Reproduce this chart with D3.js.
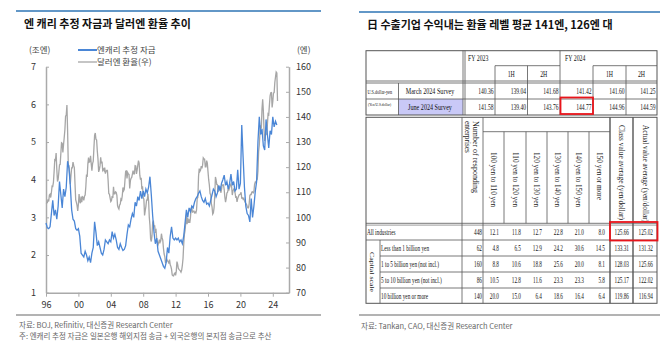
<!DOCTYPE html>
<html><head><meta charset="utf-8">
<script src="https://cdn.jsdelivr.net/npm/d3@7"></script>
<style>body{margin:0;background:#fff}svg{display:block}</style>
</head><body><svg id="c" width="660" height="345"></svg>
<script>
// ---------- DATA (left chart) ----------
// USD/JPY monthly, from Jan 1996
const usdjpyMonthly = [
105.8,105.7,105.9,107.2,106.3,108.9,109.2,107.9,109.9,112.4,112.3,113.9,
118.1,122.9,122.7,125.6,119.2,114.3,115.1,117.9,120.9,121.1,125.4,129.7,
129.5,125.9,129.0,131.8,134.9,140.3,140.7,144.7,134.5,121.0,120.6,117.4,
113.2,116.7,119.7,119.7,122.0,120.7,119.7,113.2,107.0,106.0,104.8,102.6,
105.2,109.3,106.3,105.6,108.3,106.1,108.2,108.0,106.8,108.4,108.9,112.2,
117.1,116.1,121.2,123.8,122.0,122.2,124.5,121.3,118.6,121.4,122.4,127.6,
132.7,133.6,131.1,130.8,126.4,123.3,118.1,119.0,120.5,123.9,121.5,122.2,
118.8,119.3,118.7,119.8,117.4,118.3,118.7,118.7,114.8,109.5,109.2,107.7,
106.3,106.7,108.5,107.7,112.2,109.4,109.4,110.2,110.0,108.8,104.7,103.8,
103.3,104.9,105.3,107.3,106.9,108.6,111.9,110.6,111.2,114.8,118.4,118.5,
115.5,117.9,117.3,117.1,111.5,114.5,115.6,115.9,117.2,118.6,117.3,117.3,
120.6,120.5,117.3,118.8,120.8,122.6,121.6,116.7,115.0,115.8,111.2,112.4,
107.9,107.2,100.8,102.7,104.4,106.9,106.9,109.4,106.6,100.1,96.9,91.3,
90.4,92.6,97.8,98.7,96.5,96.6,94.5,94.9,91.4,90.3,89.1,89.9,
91.1,90.1,90.7,93.5,91.8,90.9,87.7,85.4,84.4,81.8,82.5,83.3,
82.6,82.5,81.6,83.2,81.1,80.5,79.3,77.1,76.8,76.7,77.5,77.8,
76.9,78.5,82.4,81.4,79.7,79.3,79.0,78.7,78.2,79.0,80.9,83.6,
89.2,93.1,94.8,97.8,101.0,97.3,99.7,97.8,99.2,97.8,100.0,103.5,
103.9,102.1,102.3,102.5,101.8,102.1,101.8,102.9,107.4,108.0,116.4,119.4,
118.3,118.8,120.4,119.5,120.8,123.7,123.3,123.2,120.1,120.1,122.6,121.6,
118.2,115.0,112.9,109.6,108.9,105.5,104.1,101.3,101.8,103.9,108.6,116.1,
114.9,113.1,113.0,110.1,112.2,110.9,112.4,109.8,111.0,112.9,112.8,112.9,
111.0,107.9,106.1,107.6,109.7,110.0,111.4,111.0,111.9,112.8,113.3,112.2,
108.9,110.5,111.2,111.6,110.0,108.1,108.2,106.2,107.5,108.2,108.9,109.1,
109.3,110.0,107.7,107.8,107.2,107.6,106.7,106.0,105.6,105.2,104.4,103.8,
103.8,105.4,108.7,109.1,109.1,110.1,110.2,109.8,110.2,113.1,114.0,113.9,
114.8,115.2,118.5,126.3,128.8,133.9,136.7,135.3,143.1,147.0,142.4,134.8,
130.4,132.7,133.0,133.3,137.0,141.2,140.9,144.8,148.4,149.6,149.7,143.8,
146.2,149.5,149.7,153.7,155.9,157.9,157.5,146.3
];
// Yen carry estimate (trillion yen), every 2 months from Jan 1996
const carryBimonthly = [
2.85,2.72,2.70,2.75,3.10,3.45,
3.05,3.20,2.95,3.30,3.95,3.60,
3.25,3.75,3.55,3.80,4.49,4.30,
3.85,3.20,2.95,2.90,2.70,2.66,
2.70,2.50,2.05,2.00,1.95,2.10,
2.00,1.85,1.95,1.80,2.05,2.20,
2.88,2.60,2.25,2.35,2.20,2.05,
2.00,2.15,2.40,2.35,2.30,2.40,
2.35,2.62,2.45,2.55,2.40,2.20,
2.15,2.30,2.20,2.12,2.15,2.25,
2.55,2.80,2.75,2.95,3.10,3.00,
3.40,3.30,3.55,3.45,3.70,3.50,
3.70,3.55,3.75,3.65,3.80,4.08,
3.60,3.05,2.60,2.30,2.45,2.10,
2.00,1.90,1.80,1.70,1.65,1.80,
2.20,2.05,2.50,2.75,2.45,2.40,
2.45,2.40,2.45,2.35,2.40,2.30,
2.50,2.85,3.20,3.00,3.25,3.15,
3.30,3.25,3.40,3.50,3.55,3.64,
3.70,3.55,3.45,3.40,3.50,3.35,
3.38,3.30,3.45,3.60,3.75,3.70,
3.55,3.65,3.85,3.70,3.90,4.00,
4.12,3.85,3.95,3.75,3.90,4.15,
3.85,3.95,3.70,3.75,4.26,3.75,
3.90,5.45,4.60,3.80,3.30,3.10,
3.05,2.88,3.50,3.00,3.30,3.68,
3.95,5.00,5.67,5.20,5.35,4.90,
4.79,5.60,5.20,4.84,5.30,5.20,
5.67,5.40,5.55,5.45
];
const xTickYears = [1996,2000,2004,2008,2012,2016,2020,2024];
const xTickLabels = ["96","00","04","08","12","16","20","24"];
const leftTicks = [1,2,3,4,5,6,7];
const rightTicks = [70,80,90,100,110,120,130,140,150,160];
const seriesNames = ["엔캐리 추정 자금","달러엔 환율(우)"];

// ---------- DATA (right table) ----------
const periodHeaders = ["FY 2023","1H","2H","FY 2024","1H","2H"];
const surveyNames = ["March 2024 Survey","June 2024 Survey"];
const marchSurvey = [140.36,139.04,141.68,141.42,141.60,141.25];
const juneSurvey  = [141.58,139.40,143.76,144.77,144.96,144.59];
const rangeLabels = ["100 yen to 110 yen","110 yen to 120 yen","120 yen to 130 yen","130 yen to 140 yen","140 yen to 150 yen","150 yen or more"];
const rowLabels = ["All industries","Less than 1 billion yen","1 to 5 billion yen (not incl.)","5 to 10 billion yen (not incl.)","10 billion yen or more"];
const respondents = [448,62,160,86,140];
const shares = [
 [12.1,11.8,12.7,22.8,21.0,8.0],
 [4.8,6.5,12.9,24.2,30.6,14.5],
 [8.8,10.6,18.8,25.6,20.0,8.1],
 [10.5,12.8,11.6,23.3,23.3,5.8],
 [20.0,15.0,6.4,18.6,16.4,6.4]
];
const classAvg  = [125.66,133.31,128.03,125.17,119.86];
const actualAvg = [125.02,131.32,125.66,122.02,116.94];

// ---------- DRAW ----------
const svg = d3.select("#c");
const KR = "'Noto Sans CJK KR','Noto Sans',sans-serif";
const SERIF = "'Liberation Serif','DejaVu Serif',serif";

// ===== LEFT PANEL =====
svg.append("line").attr("x1",16).attr("x2",321).attr("y1",11).attr("y2",11).attr("stroke","#2E74B5").attr("stroke-width",1.5);
svg.append("text").attr("x",24).attr("y",28).attr("font-family",KR).attr("font-weight","bold").attr("font-size",11).attr("fill","#111").text("엔 캐리 추정 자금과 달러엔 환율 추이");

const x = d3.scaleLinear().domain([1996,2026]).range([46,289]);
const yL = d3.scaleLinear().domain([1,7]).range([292.7,66.7]);
const yR = d3.scaleLinear().domain([70,160]).range([292.7,66.7]);

const g = svg.append("g");
const axisColor = "#aaaaaa";
const ax = g.append("g").attr("transform","translate(0,292.7)").call(d3.axisBottom(x).tickValues(xTickYears).tickFormat((d,i)=>xTickLabels[i]).tickSize(4).tickSizeOuter(0));
const ayL = g.append("g").attr("transform","translate(46,0)").call(d3.axisRight(yL).tickValues(leftTicks).tickSize(3).tickSizeOuter(0).tickFormat(""));
const ayR = g.append("g").attr("transform","translate(289,0)").call(d3.axisLeft(yR).tickValues(rightTicks).tickSize(3).tickSizeOuter(0).tickFormat(""));
[ax,ayL,ayR].forEach(a=>{a.select(".domain").attr("stroke",axisColor).attr("stroke-width",1.5);a.selectAll(".tick line").attr("stroke",axisColor).attr("stroke-width",1);});
ax.selectAll(".tick text").attr("font-family",KR).attr("font-size",9).attr("fill","#333").attr("dy","0.9em");
g.selectAll(".ll").data(leftTicks).enter().append("text").attr("x",36).attr("y",d=>yL(d)).attr("dy","0.35em").attr("text-anchor","end").attr("font-family",KR).attr("font-size",9).attr("fill","#333").text(d=>d);
g.selectAll(".rl").data(rightTicks).enter().append("text").attr("x",296).attr("y",d=>yR(d)).attr("dy","0.35em").attr("font-family",KR).attr("font-size",9).attr("fill","#333").text(d=>d);
g.append("text").attr("x",29).attr("y",50).attr("dy","0.35em").attr("font-family",KR).attr("font-size",8.5).attr("fill","#444").text("(조엔)");
g.append("text").attr("x",297).attr("y",50).attr("dy","0.35em").attr("font-family",KR).attr("font-size",8.5).attr("fill","#444").text("(엔)");

const grayPts = usdjpyMonthly.map((v,i)=>[1996+i/12,v]);
const bluePts = carryBimonthly.map((v,i)=>[1996+i*2/12,v]);
g.append("path").datum(grayPts).attr("fill","none").attr("stroke","#a6a6a6").attr("stroke-width",1.3)
 .attr("d",d3.line().x(d=>x(d[0])).y(d=>yR(d[1])));
g.append("path").datum(bluePts).attr("fill","none").attr("stroke","#4a86d6").attr("stroke-width",1.3)
 .attr("d",d3.line().x(d=>x(d[0])).y(d=>yL(d[1])));

const legCols = ["#4a86d6","#a6a6a6"];
seriesNames.forEach((n,i)=>{
  const ly = 50 + i*12;
  g.append("line").attr("x1",78).attr("x2",97).attr("y1",ly).attr("y2",ly).attr("stroke",legCols[i]).attr("stroke-width",i===0?2:1.3);
  g.append("text").attr("x",97).attr("y",ly).attr("dy","0.35em").attr("font-family",KR).attr("font-size",8.5).attr("fill","#444").text(n);
});

svg.append("line").attr("x1",16).attr("x2",321).attr("y1",315).attr("y2",315).attr("stroke","#9a9a9a").attr("stroke-width",1.5);
svg.append("text").attr("x",19).attr("y",328).attr("font-family",KR).attr("font-size",7.5).attr("fill","#666").text("자료: BOJ, Refinitiv, 대신증권 Research Center");
svg.append("text").attr("x",19).attr("y",339).attr("font-family",KR).attr("font-size",7.5).attr("fill","#666").text("주: 엔캐리 추정 자금은 일본은행 해외지점 송금 + 외국은행의 본지점 송금으로 추산");

// ===== RIGHT PANEL =====
svg.append("line").attr("x1",359).attr("x2",660).attr("y1",12).attr("y2",12).attr("stroke","#2E74B5").attr("stroke-width",1.5);
svg.append("text").attr("x",367).attr("y",29).attr("font-family",KR).attr("font-weight","bold").attr("font-size",11).attr("fill","#111").text("日 수출기업 수익내는 환율 레벨 평균 141엔, 126엔 대");

const T = svg.append("g");
const lc = "#555";
function ln(x1,y1,x2,y2,w){T.append("line").attr("x1",x1).attr("y1",y1).attr("x2",x2).attr("y2",y2).attr("stroke",lc).attr("stroke-width",w||0.8);}
function txt(s,xx,yy,anchor,size,sx,col){
  T.append("text").attr("transform",`translate(${xx},${yy}) scale(${sx||0.65},1)`).attr("text-anchor",anchor||"start")
   .attr("font-family",SERIF).attr("font-size",size||9).attr("fill",col||"#111").text(s);
}
function vtxt(s,xx,yy,size,len){
  const t=T.append("text").attr("transform",`translate(${xx},${yy}) rotate(90)`).attr("font-family",SERIF).attr("font-size",size||7.5).attr("fill","#222").text(s);
  if(len) t.attr("textLength",len).attr("lengthAdjust","spacingAndGlyphs");
}

// --- upper table ---
const L=366, R=657;
const colX = [463,495,527.5,560,593,626,657];
const yTop=50.7, yH1=65.7, yH2=81, yM=99, yJ=115;
T.append("rect").attr("x",398.5).attr("y",yM).attr("width",463-398.5).attr("height",yJ-yM).attr("fill","#c9c9f7");
T.append("rect").attr("x",L).attr("y",yTop).attr("width",R-L).attr("height",yJ-yTop).attr("fill","none").attr("stroke",lc).attr("stroke-width",1);
ln(L,yH2,R,yH2,0.8); ln(L,yH2+2,R,yH2+2,0.8);
ln(L,yM,R,yM,0.8);
ln(colX[0],yTop,colX[0],yJ,0.8); ln(colX[0]+2,yTop,colX[0]+2,yJ,0.8);
ln(colX[3],yTop,colX[3],yJ,0.8);
ln(colX[1],yH1,colX[1],yJ); ln(colX[2],yH1,colX[2],yJ); ln(colX[4],yH1,colX[4],yJ); ln(colX[5],yH1,colX[5],yJ);
ln(colX[1],yH1,colX[3],yH1); ln(colX[4],yH1,R,yH1);
ln(398.5,yH2+2,398.5,yJ);
txt(periodHeaders[0],468,61,"start",9,0.65);
txt(periodHeaders[3],565,61,"start",9,0.65);
[1,2,4,5].forEach(i=>txt(periodHeaders[i],(colX[i]+colX[i+1])/2,76.5,"middle",9,0.65));
txt("U.S.dollar-yen",367.5,93.5,"start",6,0.7);
txt("(Yen/U.S.dollar)",368,106,"start",5,0.7);
txt(surveyNames[0],430,94,"middle",9,0.68);
txt(surveyNames[1],430,110,"middle",9,0.68);
marchSurvey.forEach((v,i)=>txt(v.toFixed(2),colX[i+1]-1.5,94,"end",9,0.62));
juneSurvey.forEach((v,i)=>txt(v.toFixed(2),colX[i+1]-1.5,110,"end",9,0.62));
T.append("rect").attr("x",560.5).attr("y",97.5).attr("width",32.5).attr("height",16.5).attr("fill","none").attr("stroke","#e8141b").attr("stroke-width",1.8);

// --- lower table ---
const lt=117.3, lh=131.7, lb=223.3;
const rowEdges=[223.3,240,256,272,288,303.3];
const lcols=[462,483,504,526,547,568,589,610,633,657];
T.append("rect").attr("x",L).attr("y",lt).attr("width",R-L).attr("height",rowEdges[5]-lt).attr("fill","none").attr("stroke",lc).attr("stroke-width",1);
ln(lcols[0],lt,lcols[0],rowEdges[5]);
ln(lcols[1],lt,lcols[1],rowEdges[5]);
ln(lcols[7],lt,lcols[7],rowEdges[5],1.4);
ln(lcols[8],lt,lcols[8],rowEdges[5],1.4);
for(let i=2;i<=6;i++) ln(lcols[i],lh,lcols[i],lb);
ln(lcols[1],lh,lcols[7],lh);
ln(L,lb,R,lb,0.8); ln(L,lb+1.8,R,lb+1.8,0.6);
ln(L,rowEdges[1],R,rowEdges[1]);
for(let r=2;r<=4;r++) ln(380,rowEdges[r],R,rowEdges[r]);
ln(380,rowEdges[1],380,rowEdges[5]);
vtxt("Number of responding",472.5,121,7.5,72);
vtxt("enterprises",464.5,121,7.5,32);
rangeLabels.forEach((s,i)=>vtxt(s,(lcols[i+1]+lcols[i+2])/2-2.5,152,7.5,s.length>17?55:48));
vtxt("Class value average (yen/dollar)",(lcols[7]+lcols[8])/2-2.5,125,7.5,95);
vtxt("Actual value average (yen/dollar)",(lcols[8]+lcols[9])/2-2.5,125,7.5,97);
vtxt("Capital scale",370,252,7,40);
rowLabels.forEach((s,r)=>{
  const yy=(rowEdges[r]+rowEdges[r+1])/2+3;
  txt(s, r===0?367:381, yy, "start", 8, 0.66);
  txt(String(respondents[r]), lcols[1]-1, yy, "end", 8.5, 0.62);
  shares[r].forEach((v,i)=>txt(v.toFixed(1), lcols[i+2]-5, yy, "end", 8.5, 0.62));
  txt(classAvg[r].toFixed(2), lcols[8]-4, yy, "end", 8.5, 0.62);
  txt(actualAvg[r].toFixed(2), lcols[9]-4, yy, "end", 8.5, 0.62);
});
T.append("rect").attr("x",610).attr("y",222).attr("width",47.5).attr("height",18.5).attr("fill","none").attr("stroke","#e8141b").attr("stroke-width",1.8);

svg.append("line").attr("x1",359).attr("x2",660).attr("y1",315).attr("y2",315).attr("stroke","#9a9a9a").attr("stroke-width",1.5);
svg.append("text").attr("x",361).attr("y",329).attr("font-family",KR).attr("font-size",7.5).attr("fill","#666").text("자료: Tankan, CAO, 대신증권 Research Center");
</script></body></html>
